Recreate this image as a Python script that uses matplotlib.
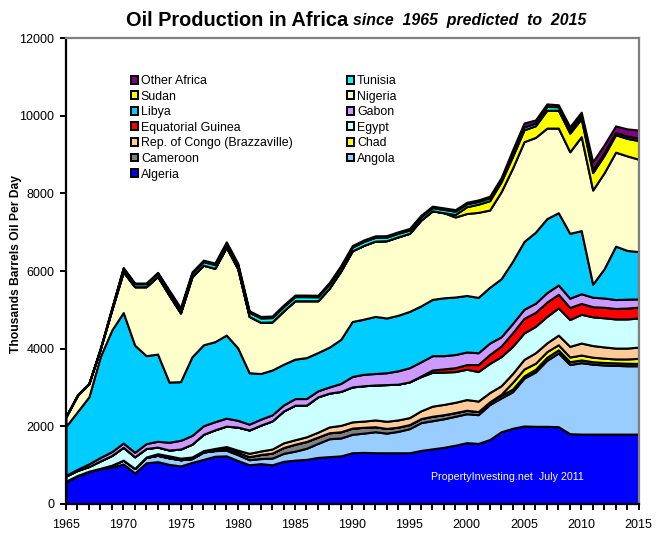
#!/usr/bin/env python
"""Stacked area chart of African oil production, 1965 to 2015."""
import matplotlib
matplotlib.use("Agg")
import matplotlib.pyplot as plt
from matplotlib.patches import Patch

plt.rcParams["font.family"] = ["Liberation Sans", "DejaVu Sans"]

years = list(range(1965, 2016))

# thousands of barrels per day, bottom of stack first
algeria = [575, 720, 830, 905, 950, 1030, 800, 1060, 1090, 1020, 980, 1070, 1150, 1230, 1240, 1120, 1010,
           1040, 1010, 1100, 1130, 1150, 1200, 1220, 1240, 1320, 1330, 1320, 1320, 1320, 1320, 1380, 1420,
           1460, 1515, 1580, 1560, 1660, 1860, 1950, 2010, 2000, 2000, 1990, 1810, 1800, 1800, 1800, 1800,
           1800, 1800]
angola = [15, 15, 15, 15, 50, 100, 115, 140, 165, 170, 160, 100, 190, 145, 145, 150, 130,
          130, 170, 205, 230, 285, 360, 460, 460, 475, 495, 540, 505, 550, 620, 715, 725,
          735, 745, 745, 740, 900, 870, 940, 1230, 1400, 1700, 1900, 1780, 1840, 1800, 1780, 1770,
          1760, 1760]
cameroon = [0, 0, 0, 0, 0, 0, 0, 0, 0, 0, 0, 0, 0, 5, 40, 60, 80,
            105, 130, 150, 180, 175, 165, 155, 160, 160, 150, 130, 120, 110, 105, 105, 115,
            105, 95, 90, 80, 70, 70, 70, 60, 70, 80, 80, 75, 70, 65, 65, 65,
            65, 60]
chad = [0, 0, 0, 0, 0, 0, 0, 0, 0, 0, 0, 0, 0, 0, 0, 0, 0,
        0, 0, 0, 0, 0, 0, 0, 0, 0, 0, 0, 0, 0, 0, 0, 0,
        0, 0, 0, 0, 0, 25, 170, 175, 155, 145, 130, 120, 125, 115, 110, 100,
        110, 130]
congo = [0, 0, 0, 0, 0, 0, 0, 10, 40, 50, 40, 40, 35, 50, 55, 55, 85,
         90, 105, 120, 115, 120, 125, 150, 165, 160, 160, 175, 185, 185, 180, 200, 260,
         265, 265, 275, 270, 240, 220, 230, 250, 270, 225, 250, 275, 310, 300, 290, 280,
         280, 290]
egypt = [130, 130, 120, 190, 250, 330, 300, 220, 170, 150, 235, 330, 420, 480, 525, 595, 600,
         665, 725, 820, 890, 815, 910, 870, 875, 900, 910, 900, 945, 920, 920, 880, 870,
         830, 790, 780, 760, 750, 750, 700, 680, 680, 680, 700, 690, 740, 740, 750, 750,
         750, 750]
eq_guinea = [0, 0, 0, 0, 0, 0, 0, 0, 0, 0, 0, 0, 0, 0, 0, 0, 0,
             0, 0, 0, 0, 0, 0, 0, 0, 0, 0, 0, 0, 0, 0, 17, 60,
             85, 100, 120, 180, 230, 270, 350, 375, 360, 370, 350, 310, 280, 260, 270, 270,
             280, 280]
gabon = [20, 30, 70, 90, 100, 110, 115, 125, 150, 200, 225, 225, 220, 210, 205, 175, 150,
         155, 155, 155, 170, 170, 155, 160, 205, 270, 295, 295, 305, 345, 365, 365, 370,
         340, 340, 325, 305, 295, 240, 240, 235, 235, 245, 240, 240, 250, 245, 240, 230,
         230, 210]
libya = [1260, 1485, 1725, 2600, 3130, 3360, 2760, 2265, 2245, 1550, 1510, 2025, 2085, 2060, 2140, 1865, 1325,
         1175, 1155, 1050, 1015, 1055, 985, 1025, 1135, 1415, 1420, 1470, 1410, 1430, 1450, 1440, 1450,
         1490, 1480, 1455, 1425, 1435, 1495, 1600, 1745, 1830, 1905, 1860, 1670, 1625, 335, 755, 1375,
         1255, 1220]
nigeria = [250, 420, 340, 200, 520, 1050, 1505, 1775, 2000, 2240, 1770, 2060, 2050, 1890, 2260, 2040, 1450,
           1320, 1240, 1375, 1505, 1465, 1335, 1520, 1760, 1820, 1900, 1940, 1990, 2020, 2010, 2210, 2280,
           2190, 2060, 2110, 2190, 1990, 2240, 2400, 2570, 2440, 2330, 2180, 2100, 2420, 2425, 2470, 2420,
           2435, 2380]
sudan = [0, 0, 0, 0, 0, 0, 0, 0, 0, 0, 0, 0, 0, 0, 0, 0, 0,
         0, 0, 0, 0, 0, 0, 0, 0, 0, 0, 0, 0, 0, 0, 0, 0,
         0, 65, 175, 210, 240, 255, 300, 305, 300, 460, 460, 480, 460, 450, 450, 450,
         450, 480]
tunisia = [0, 0, 0, 0, 40, 90, 75, 75, 85, 90, 95, 85, 90, 95, 100, 100, 105,
           110, 110, 110, 105, 105, 100, 105, 100, 95, 100, 95, 90, 90, 85, 85, 80,
           85, 85, 75, 70, 75, 65, 70, 75, 70, 98, 90, 85, 80, 70, 70, 60,
           60, 60]
other = [10, 10, 10, 10, 10, 20, 20, 20, 20, 40, 40, 40, 40, 40, 40, 40, 40,
         40, 40, 40, 40, 40, 40, 40, 40, 40, 40, 40, 40, 40, 40, 40, 40,
         40, 40, 40, 40, 40, 40, 100, 100, 80, 65, 50, 80, 90, 205, 200, 165,
         185, 210]

series = [algeria, angola, cameroon, chad, congo, egypt, eq_guinea, gabon, libya,
          nigeria, sudan, tunisia, other]
colors = ["#0000FF", "#99CCFF", "#808080", "#FFFF00", "#FFCC99", "#CCFFFF", "#FF0000",
          "#CC99FF", "#00CCFF", "#FFFFCC", "#FFFF00", "#00FFFF", "#800080"]
names = ["Algeria", "Angola", "Cameroon", "Chad", "Rep. of Congo (Brazzaville)", "Egypt",
         "Equatorial Guinea", "Gabon", "Libya", "Nigeria", "Sudan", "Tunisia", "Other Africa"]

# legend order as in the reference, columns fill top to bottom
legend_order = ["Other Africa", "Sudan", "Libya", "Equatorial Guinea",
                "Rep. of Congo (Brazzaville)", "Cameroon", "Algeria",
                "Tunisia", "Nigeria", "Gabon", "Egypt", "Chad", "Angola"]

W, H = 661, 547
fig = plt.figure(figsize=(W / 100, H / 100), dpi=100, facecolor="white")
ax = fig.add_axes([66 / W, 1 - 504 / H, (638.5 - 66) / W, (504 - 38) / H])

ax.stackplot(years, *series, colors=colors, edgecolor="black", linewidth=1.5)
ax.set_xlim(1965, 2015)
ax.set_ylim(0, 12000)

ax.set_xticks(range(1965, 2016, 5))
ax.set_xticks(years, minor=True)
ax.set_yticks(range(0, 12001, 2000))
ax.tick_params(axis="both", which="major", length=4.5, width=1.4, labelsize=9)
ax.tick_params(axis="x", which="major", pad=6.5)
ax.tick_params(axis="y", which="major", pad=4)
ax.tick_params(axis="x", which="minor", length=4.5, width=1.4)

ax.spines["left"].set_linewidth(1.6)
ax.spines["bottom"].set_linewidth(1.6)
for side in ["top", "right"]:
    ax.spines[side].set_color("#808080")
    ax.spines[side].set_linewidth(1.6)
ax.spines["right"].set_zorder(1)

ax.set_ylabel("Thousands Barrels Oil Per Day", fontsize=8.7, fontweight="bold")
ax.yaxis.set_label_coords(22 / W, 1 - 264 / H, transform=fig.transFigure)

fig.text(126 / W, 1 - 20 / H, "Oil Production in Africa", fontsize=14.4, fontweight="bold",
         ha="left", va="center")
fig.text(353 / W, 1 - 20 / H, "since  1965  predicted  to  2015", fontsize=11.4, fontweight="bold",
         fontstyle="italic", ha="left", va="center")

ax.text(431 / W, 1 - 477 / H, "PropertyInvesting.net  July 2011", transform=fig.transFigure,
        color="white", fontsize=7.7, ha="left", va="center")

color_by_name = dict(zip(names, colors))
handles = [Patch(facecolor=color_by_name[n], edgecolor="black", linewidth=1.4, label=n)
           for n in legend_order]
ax.legend(handles=handles, ncol=2, frameon=False, fontsize=8.9,
          bbox_to_anchor=(131 / W, 1 - 75 / H), bbox_transform=fig.transFigure, loc="upper left",
          borderpad=0, borderaxespad=0, handlelength=0.6, handleheight=0.6, handletextpad=0.2,
          labelspacing=0.29, columnspacing=4.4)

fig.savefig("out.png", dpi=100)
